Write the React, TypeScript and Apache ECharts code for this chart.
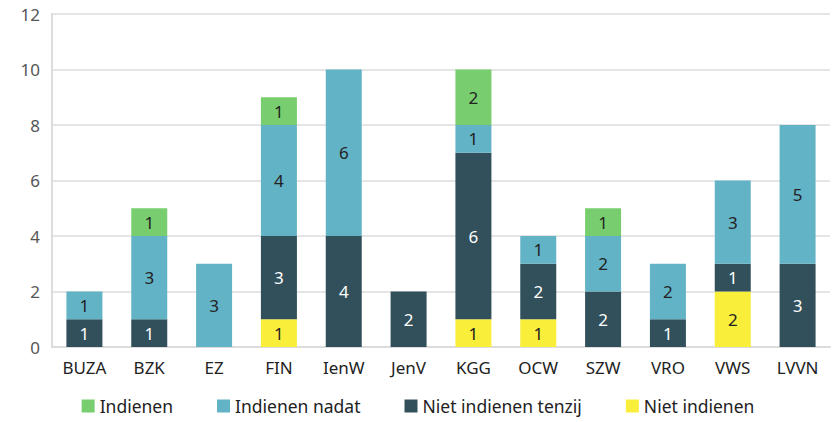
import React, { useEffect, useRef } from "react";
import * as echarts from "echarts";

const categories = ["BUZA", "BZK", "EZ", "FIN", "IenW", "JenV", "KGG", "OCW", "SZW", "VRO", "VWS", "LVVN"];
const nietIndienen = [0, 0, 0, 1, 0, 0, 1, 1, 0, 0, 2, 0];
const nietIndienenTenzij = [1, 1, 0, 3, 4, 2, 6, 2, 2, 1, 1, 3];
const indienenNadat = [1, 3, 3, 4, 6, 0, 1, 1, 2, 2, 3, 5];
const indienen = [0, 1, 0, 1, 0, 0, 2, 0, 1, 0, 0, 0];
const yTicks = { min: 0, max: 12, interval: 2 };

const FONT = "'Noto Sans', sans-serif";

function toData(arr: number[]) {
  return arr.map((v) => (v === 0 ? null : v));
}

export default function App() {
  const ref = useRef<HTMLDivElement>(null);
  useEffect(() => {
    if (!ref.current) return;
    const chart = echarts.init(ref.current, null, { renderer: "svg" });
    const mk = (name: string, data: number[], color: string, labelColor: string) => ({
      name,
      type: "bar",
      stack: "total",
      barWidth: 36,
      data: toData(data),
      itemStyle: { color },
      label: {
        show: true,
        position: "inside",
        color: labelColor,
        fontSize: 17,
        fontFamily: FONT,
      },
      emphasis: { disabled: true },
    });
    chart.setOption({
      animation: false,
      textStyle: { fontFamily: FONT },
      grid: { left: 52, right: 6, top: 14, bottom: 75, containLabel: false },
      legend: {
        bottom: 2,
        left: "center",
        icon: "rect",
        itemWidth: 13,
        itemHeight: 13,
        itemGap: 44,
        textStyle: { fontSize: 17.5, color: "#222", fontFamily: FONT },
        data: ["Indienen", "Indienen nadat", "Niet indienen tenzij", "Niet indienen"],
      },
      xAxis: {
        type: "category",
        data: categories,
        axisLine: { lineStyle: { color: "#dcdcdc", width: 2 } },
        axisTick: { show: false },
        axisLabel: { fontSize: 17, color: "#222", margin: 12, fontFamily: FONT },
      },
      yAxis: {
        type: "value",
        min: yTicks.min,
        max: yTicks.max,
        interval: yTicks.interval,
        axisLine: { show: true, lineStyle: { color: "#dcdcdc", width: 2 } },
        axisTick: { show: false },
        splitLine: { lineStyle: { color: "#dcdcdc", width: 1.5 } },
        axisLabel: { fontSize: 17, color: "#555", margin: 12, fontFamily: FONT },
      },
      series: [
        mk("Niet indienen", nietIndienen, "#F9EE3A", "#222"),
        mk("Niet indienen tenzij", nietIndienenTenzij, "#31505B", "#fff"),
        mk("Indienen nadat", indienenNadat, "#63B3C6", "#222"),
        mk("Indienen", indienen, "#78CE6E", "#222"),
      ],
    });
    return () => chart.dispose();
  }, []);
  return (
    <div
      ref={ref}
      style={{ position: "absolute", left: 0, top: 0, width: 836, height: 422 }}
    />
  );
}
